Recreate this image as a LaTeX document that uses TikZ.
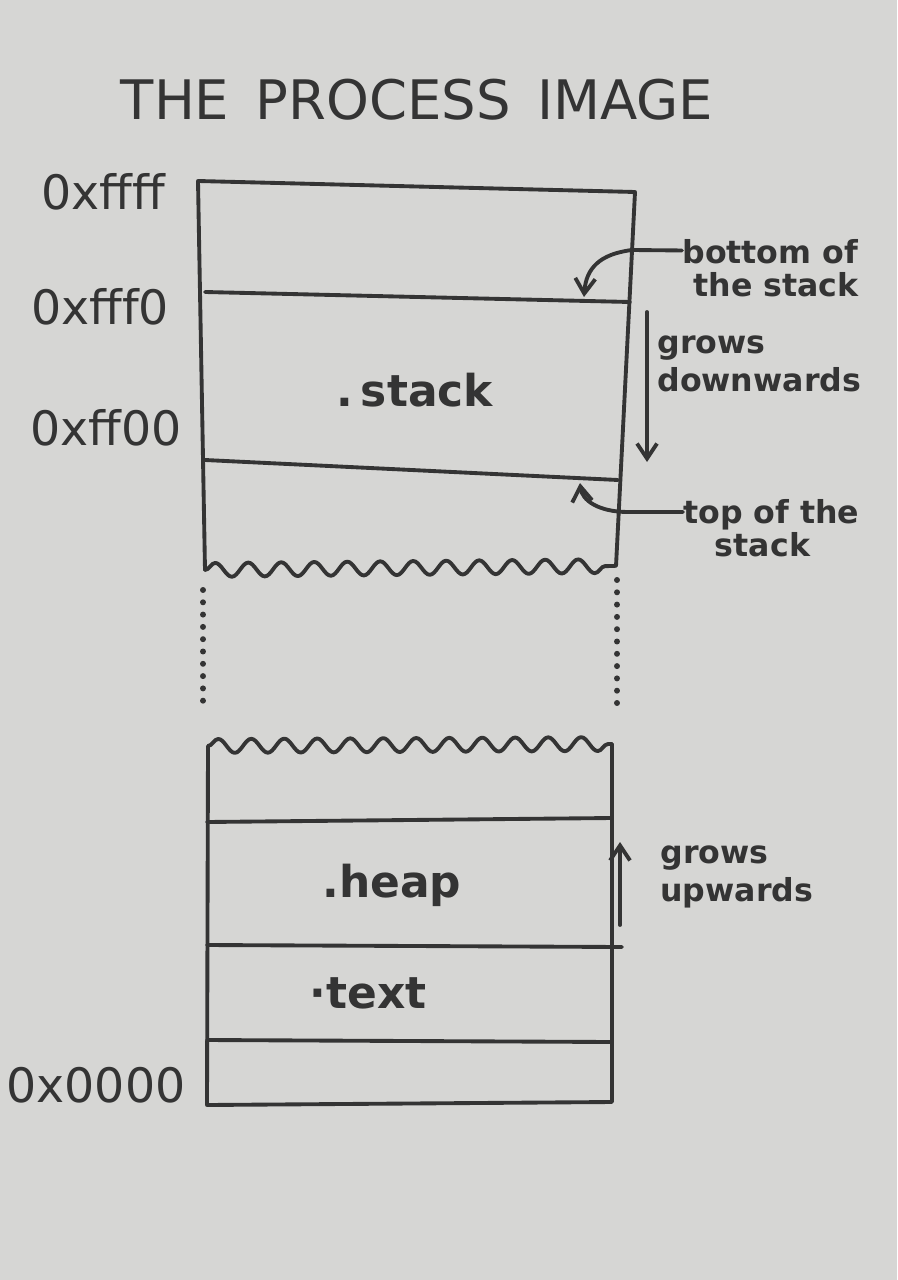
\documentclass[tikz,border=0pt]{standalone}
\usepackage{fontspec}
\setmainfont{DejaVu Sans}
\usetikzlibrary{arrows.meta,decorations.pathmorphing}
\definecolor{paper}{RGB}{214,214,212}
\definecolor{ink}{RGB}{52,52,52}
\tikzset{
  pen/.style={draw=ink,line width=2.2pt,line cap=round,line join=round},
  wavy/.style={pen,decorate,decoration={snake,amplitude=1.4mm,segment length=6.6mm}},
  dots/.style={draw=ink,line width=3.4pt,line cap=round,dash pattern=on 0pt off 7pt},
  addr/.style={text=ink,font=\fontsize{27}{30}\selectfont,inner sep=0pt},
  seg/.style={text=ink,font=\bfseries\fontsize{25}{28}\selectfont,inner sep=0pt},
  note/.style={text=ink,font=\bfseries\fontsize{18}{22}\selectfont,inner sep=0pt,align=left},
  tip/.style={-{Straight Barb[length=3mm,width=4mm]}}
}
\begin{document}
\begin{tikzpicture}[x=0.02cm,y=-0.02cm]
\useasboundingbox (0,0) rectangle (897,1280);
\fill[paper] (0,0) rectangle (897,1280);

% title
\node[text=ink,font=\fontsize{31}{34}\selectfont,inner sep=0pt] (title) at (417,100) {THE\, PROCESS\, IMAGE};

% upper block (stack region)
\draw[pen] (205,570) -- (198,181) -- (635,192) -- (616,566);
\draw[pen] (205,292) -- (630,302);
\draw[pen] (205,460) -- (618,480);
\draw[wavy] (205,570) -- (615,566);

% gap
\draw[dots] (203,590) -- (203,712);
\draw[dots] (617,580) -- (617,712);

% lower block
\draw[wavy] (208,746) -- (612,744);
\draw[pen] (208,746) -- (207,1105) -- (612,1102) -- (612,744);
\draw[pen] (207,822) -- (612,818);
\draw[pen] (207,945) -- (622,947);
\draw[pen] (207,1040) -- (612,1042);

% segment labels
\node[seg] (stack) at (415,390) {.\,stack};
\node[seg] (heap) at (392,885) {.heap};
\node[seg] (text) at (368,993) {·text};

% addresses
\node[addr] (affff) at (103,192) {0xffff};
\node[addr] (afff0) at (100,307) {0xfff0};
\node[addr] (aff00) at (106,428) {0xff00};
\node[addr] (a0000) at (96,1085) {0x0000};

% bottom of the stack
\node[note,anchor=west] (bot) at (682,268) {bottom of\\[-3pt]\ the stack};
\coordinate (botline) at (584,297);
\draw[pen,tip] ([yshift=-1pt]bot.north west) ++(0,10) -- (632,250) .. controls (600,254) and (586,268) .. (botline);

% grows downwards
\coordinate (dtop) at (647,312);
\coordinate (dbot) at (647,462);
\draw[pen,tip] (dtop) -- (dbot);
\node[note,anchor=north west] (gdown) at (657,335) {grows\\downwards};

% top of the stack
\node[note,anchor=west] (topl) at (683,528) {top of the\\[-3pt]\quad stack};
\coordinate (topline) at (580,483);
\draw[pen,tip] (topl.west) ++(0,-16) -- (628,512) .. controls (598,512) and (582,500) .. (topline);

% grows upwards
\coordinate (ubot) at (620,925);
\coordinate (utop) at (620,842);
\draw[pen,tip] (ubot) -- (utop);
\node[note,anchor=north west] (gup) at (660,845) {grows\\upwards};
\end{tikzpicture}
\end{document}
